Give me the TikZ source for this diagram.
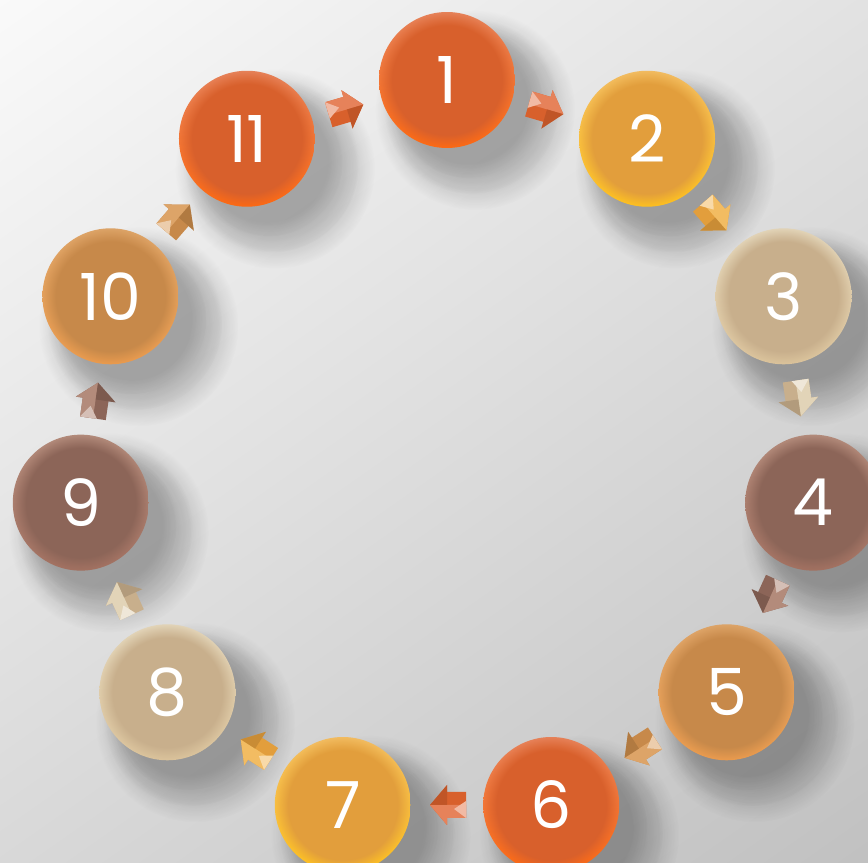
\documentclass[tikz,border=0pt]{standalone}
\usepackage{fontspec}
\setmainfont{Poppins}
\usetikzlibrary{calc,fadings}

% ball colours: T = top rim, M = body, B = bottom rim
\definecolor{orngT}{HTML}{E6825A}
\definecolor{orngM}{HTML}{D8602C}
\definecolor{orngB}{HTML}{FF6A12}
\definecolor{ambrT}{HTML}{F2BC62}
\definecolor{ambrM}{HTML}{E29E3C}
\definecolor{ambrB}{HTML}{FFC21E}
\definecolor{beigT}{HTML}{E2D4B8}
\definecolor{beigM}{HTML}{C8AF8C}
\definecolor{beigB}{HTML}{DCC49C}
\definecolor{brwnT}{HTML}{B38B7B}
\definecolor{brwnM}{HTML}{8C6558}
\definecolor{brwnB}{HTML}{A47262}
\definecolor{tannT}{HTML}{DDA468}
\definecolor{tannM}{HTML}{C7894A}
\definecolor{tannB}{HTML}{EC9C4E}

\tikzset{
  sphere/.style={circle, minimum size=2.72cm, inner sep=0pt, text=white,
    font=\fontsize{37}{37}\selectfont,
    path picture={
      \shade[top color=ballT, middle color=ballM, bottom color=ballB]
        (path picture bounding box.south west) rectangle (path picture bounding box.north east);
      \fill[ballM, path fading=circle with fuzzy edge 20 percent]
        (path picture bounding box.center) circle[radius=1.36cm];
    }},
  shadowdisc/.style={black, fill opacity=0.11, path fading=circle with fuzzy edge 20 percent},
  pics/tip/.style={code={
    \fill[tipM] (-19,13) -- (0,13) -- (0,20) -- (17,0) -- (0,-20) -- (0,-13) -- (-19,-13) -- cycle;
    \fill[tipT] (-19,13) -- (0,13) -- (0,20) -- (17,0) -- (-19,0) -- cycle;
    \fill[tipT!55!white] (-19,13) -- (-19,-4) -- (-7,4) -- cycle;
    \fill[tipM!80!black, opacity=0.55] (0,0) -- (17,0) -- (0,-20) -- cycle;
  }}
}

\begin{document}
\begin{tikzpicture}[x=0.02cm, y=0.02cm]
  \useasboundingbox (0,0) rectangle (868,862);
  \clip (0,0) rectangle (868,862);
  % backdrop
  \shade[top color=white!97!gray, bottom color=gray!50, shading angle=35] (-200,-200) rectangle (1068,1062);

  % the eleven balls
  \foreach \n/\col in {1/orng,2/ambr,3/beig,4/brwn,5/tann,6/orng,7/ambr,8/beig,9/brwn,10/tann,11/orng} {
    \colorlet{ballT}{\col T}\colorlet{ballM}{\col M}\colorlet{ballB}{\col B}
    \coordinate (p\n) at ({447+370*cos(90-(\n-1)*360/11)}, {412+370*sin(90-(\n-1)*360/11)});
    \fill[shadowdisc] ($(p\n)+(20,-22)$) circle (76);
    \fill[shadowdisc] ($(p\n)+(24,-26)$) circle (88);
    \fill[shadowdisc] ($(p\n)+(28,-30)$) circle (100);
    \node[sphere] (s\n) at (p\n) {\n};
  }

  % arrow tips from one ball to the next
  \foreach \i/\j/\col in {1/2/orng,2/3/ambr,3/4/beig,4/5/brwn,5/6/tann,6/7/orng,7/8/ambr,8/9/beig,9/10/brwn,10/11/tann,11/1/orng} {
    \colorlet{tipT}{\col T}\colorlet{tipM}{\col M}\colorlet{tipB}{\col B}
    \path (s\i) -- (s\j) pic[midway, sloped, allow upside down] {tip};
  }
\end{tikzpicture}
\end{document}
